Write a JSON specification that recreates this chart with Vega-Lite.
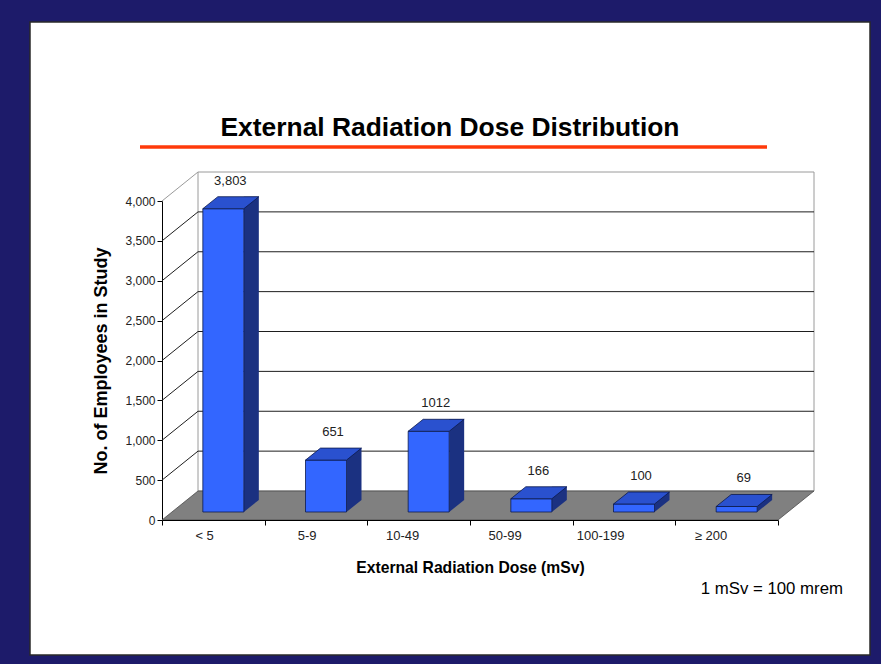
{
  "$schema": "https://vega.github.io/schema/vega-lite/v6.json",
  "width": 840,
  "height": 633,
  "autosize": {"type": "none"},
  "padding": {"left": 30, "top": 22, "right": 11, "bottom": 9},
  "background": "#1d1b6a",
  "title": {
    "text": "External Radiation Dose Distribution",
    "font": "Liberation Sans",
    "fontSize": 26.4,
    "fontWeight": "bold",
    "color": "#000000",
    "anchor": "middle",
    "offset": -119
  },
  "config": {
    "view": {"fill": "#ffffff", "stroke": "#2a2a2a", "strokeWidth": 1.5},
    "axis": {
      "labelFont": "Liberation Sans",
      "labelFontSize": 12,
      "labelColor": "#222222",
      "titleFont": "Liberation Sans",
      "titleColor": "#000000",
      "titleFontWeight": "bold",
      "domainColor": "#000000",
      "tickColor": "#000000",
      "grid": false
    },
    "axisY": {"labelExpr": "format(datum.value, ',')"},
    "text": {"font": "Liberation Sans"}
  },
  "datasets": {
    "doses": [
      {"dose": "< 5", "employees": 3803, "label": "3,803"},
      {"dose": "5-9", "employees": 651, "label": "651"},
      {"dose": "10-49", "employees": 1012, "label": "1012"},
      {"dose": "50-99", "employees": 166, "label": "166"},
      {"dose": "100-199", "employees": 100, "label": "100"},
      {"dose": "≥ 200", "employees": 69, "label": "69"}
    ],
    "ticks": [
      {"tick": 500}, {"tick": 1000}, {"tick": 1500}, {"tick": 2000},
      {"tick": 2500}, {"tick": 3000}, {"tick": 3500}, {"tick": 4000}
    ]
  },
  "layer": [
    {
      "data": {"values": [{}]},
      "mark": {"type": "rect", "fill": "#ffffff", "stroke": "#9a9a9a", "strokeWidth": 1,
               "xOffset": 36, "x2Offset": 36, "yOffset": -29, "y2Offset": -29},
      "encoding": {
        "x": {"datum": "< 5", "type": "nominal", "bandPosition": 0},
        "x2": {"datum": "≥ 200", "bandPosition": 1},
        "y": {"datum": 4000, "type": "quantitative"},
        "y2": {"datum": 0}
      }
    },
    {
      "data": {"values": [{}]},
      "mark": {"type": "point", "shape": "M 0 0 L 616 0 L 652 -29 L 36 -29 Z", "size": 4,
               "filled": true, "opacity": 1, "fill": "#808080", "stroke": "#4a4a4a", "strokeWidth": 0.8},
      "encoding": {
        "x": {"datum": "< 5", "type": "nominal", "bandPosition": 0},
        "y": {"datum": 0, "type": "quantitative"}
      }
    },
    {
      "data": {"name": "ticks"},
      "transform": [{"filter": "datum.tick < 4000"}],
      "mark": {"type": "rule", "stroke": "#1e1e1e", "strokeWidth": 1,
               "xOffset": 36, "x2Offset": 36, "yOffset": -29},
      "encoding": {
        "x": {"datum": "< 5", "type": "nominal", "bandPosition": 0},
        "x2": {"datum": "≥ 200", "bandPosition": 1},
        "y": {"field": "tick", "type": "quantitative"}
      }
    },
    {
      "data": {"name": "ticks"},
      "mark": {"type": "rule", "strokeWidth": 1, "x2Offset": 36, "y2Offset": -29},
      "encoding": {
        "x": {"datum": "< 5", "type": "nominal", "bandPosition": 0},
        "x2": {"datum": "< 5", "bandPosition": 0},
        "y": {"field": "tick", "type": "quantitative"},
        "y2": {"field": "tick"},
        "stroke": {"condition": {"test": "datum.tick == 4000", "value": "#9a9a9a"}, "value": "#1e1e1e"}
      }
    },
    {
      "data": {"name": "doses"},
      "mark": {"type": "bar", "width": 15, "fill": "#1b3181", "xOffset": 38, "yOffset": -20, "y2Offset": -20},
      "encoding": {
        "x": {"field": "dose", "type": "nominal", "sort": null},
        "y": {"field": "employees", "type": "quantitative"},
        "y2": {"datum": 0}
      }
    },
    {
      "data": {"name": "doses"},
      "mark": {"type": "point", "shape": "M 20.5 -12 L 20.5 0 L 35.5 -12 Z", "size": 4,
               "filled": true, "opacity": 1, "fill": "#1b3181", "strokeWidth": 0, "xOffset": 10, "yOffset": -8},
      "encoding": {
        "x": {"field": "dose", "type": "nominal", "sort": null},
        "y": {"datum": 0, "type": "quantitative"}
      }
    },
    {
      "data": {"name": "doses"},
      "mark": {"type": "bar", "width": 41, "fill": "#3366ff", "stroke": "#0d1a4d", "strokeWidth": 0.8,
               "xOffset": 10, "yOffset": -8, "y2Offset": -8},
      "encoding": {
        "x": {
          "field": "dose", "type": "nominal", "sort": null,
          "scale": {"domain": ["< 5", "5-9", "10-49", "50-99", "100-199", "≥ 200"],
                    "range": [132, 748], "paddingInner": 0, "paddingOuter": 0},
          "axis": {
            "title": "External Radiation Dose (mSv)", "titleFontSize": 15.7, "titlePadding": 18,
            "labelAngle": 0, "labelFontSize": 13, "tickBand": "extent", "tickSize": 5, "labelPadding": 10,
            "offset": -135
          }
        },
        "y": {
          "field": "employees", "type": "quantitative",
          "scale": {"domain": [0, 4000], "range": [498, 179], "nice": false},
          "axis": {
            "title": "No. of Employees in Study", "titleFontSize": 18, "titlePadding": 14,
            "values": [0, 500, 1000, 1500, 2000, 2500, 3000, 3500, 4000],
            "labelExpr": "format(datum.value, ',')", "tickSize": 5, "labelPadding": 2, "offset": -132
          }
        },
        "y2": {"datum": 0}
      }
    },
    {
      "data": {"name": "doses"},
      "mark": {"type": "point", "shape": "M -20.5 0 L 20.5 0 L 35.5 -12 L -5.5 -12 Z", "size": 4,
               "filled": true, "opacity": 1, "fill": "#2a51cf", "stroke": "#0d1a4d", "strokeWidth": 0.8,
               "xOffset": 10, "yOffset": -8},
      "encoding": {
        "x": {"field": "dose", "type": "nominal", "sort": null},
        "y": {"field": "employees", "type": "quantitative"}
      }
    },
    {
      "data": {"name": "doses"},
      "mark": {"type": "text", "fontSize": 13, "color": "#222222", "align": "center", "baseline": "middle",
               "xOffset": 17, "yOffset": -36},
      "encoding": {
        "x": {"field": "dose", "type": "nominal", "sort": null},
        "y": {"field": "employees", "type": "quantitative"},
        "text": {"field": "label"}
      }
    },
    {
      "data": {"values": [{}]},
      "mark": {"type": "rule", "stroke": "#ff3a0a", "strokeWidth": 3.5, "xOffset": -22, "x2Offset": -11, "yOffset": -54},
      "encoding": {
        "x": {"datum": "< 5", "type": "nominal", "bandPosition": 0},
        "x2": {"datum": "≥ 200", "bandPosition": 1},
        "y": {"datum": 4000, "type": "quantitative"}
      }
    },
    {
      "data": {"values": [{"note": "1 mSv = 100 mrem"}]},
      "mark": {"type": "text", "fontSize": 16.8, "color": "#000000", "align": "right", "baseline": "middle",
               "xOffset": 65, "yOffset": 69},
      "encoding": {
        "x": {"datum": "≥ 200", "type": "nominal", "bandPosition": 1},
        "y": {"datum": 0, "type": "quantitative"},
        "text": {"field": "note"}
      }
    }
  ]
}
